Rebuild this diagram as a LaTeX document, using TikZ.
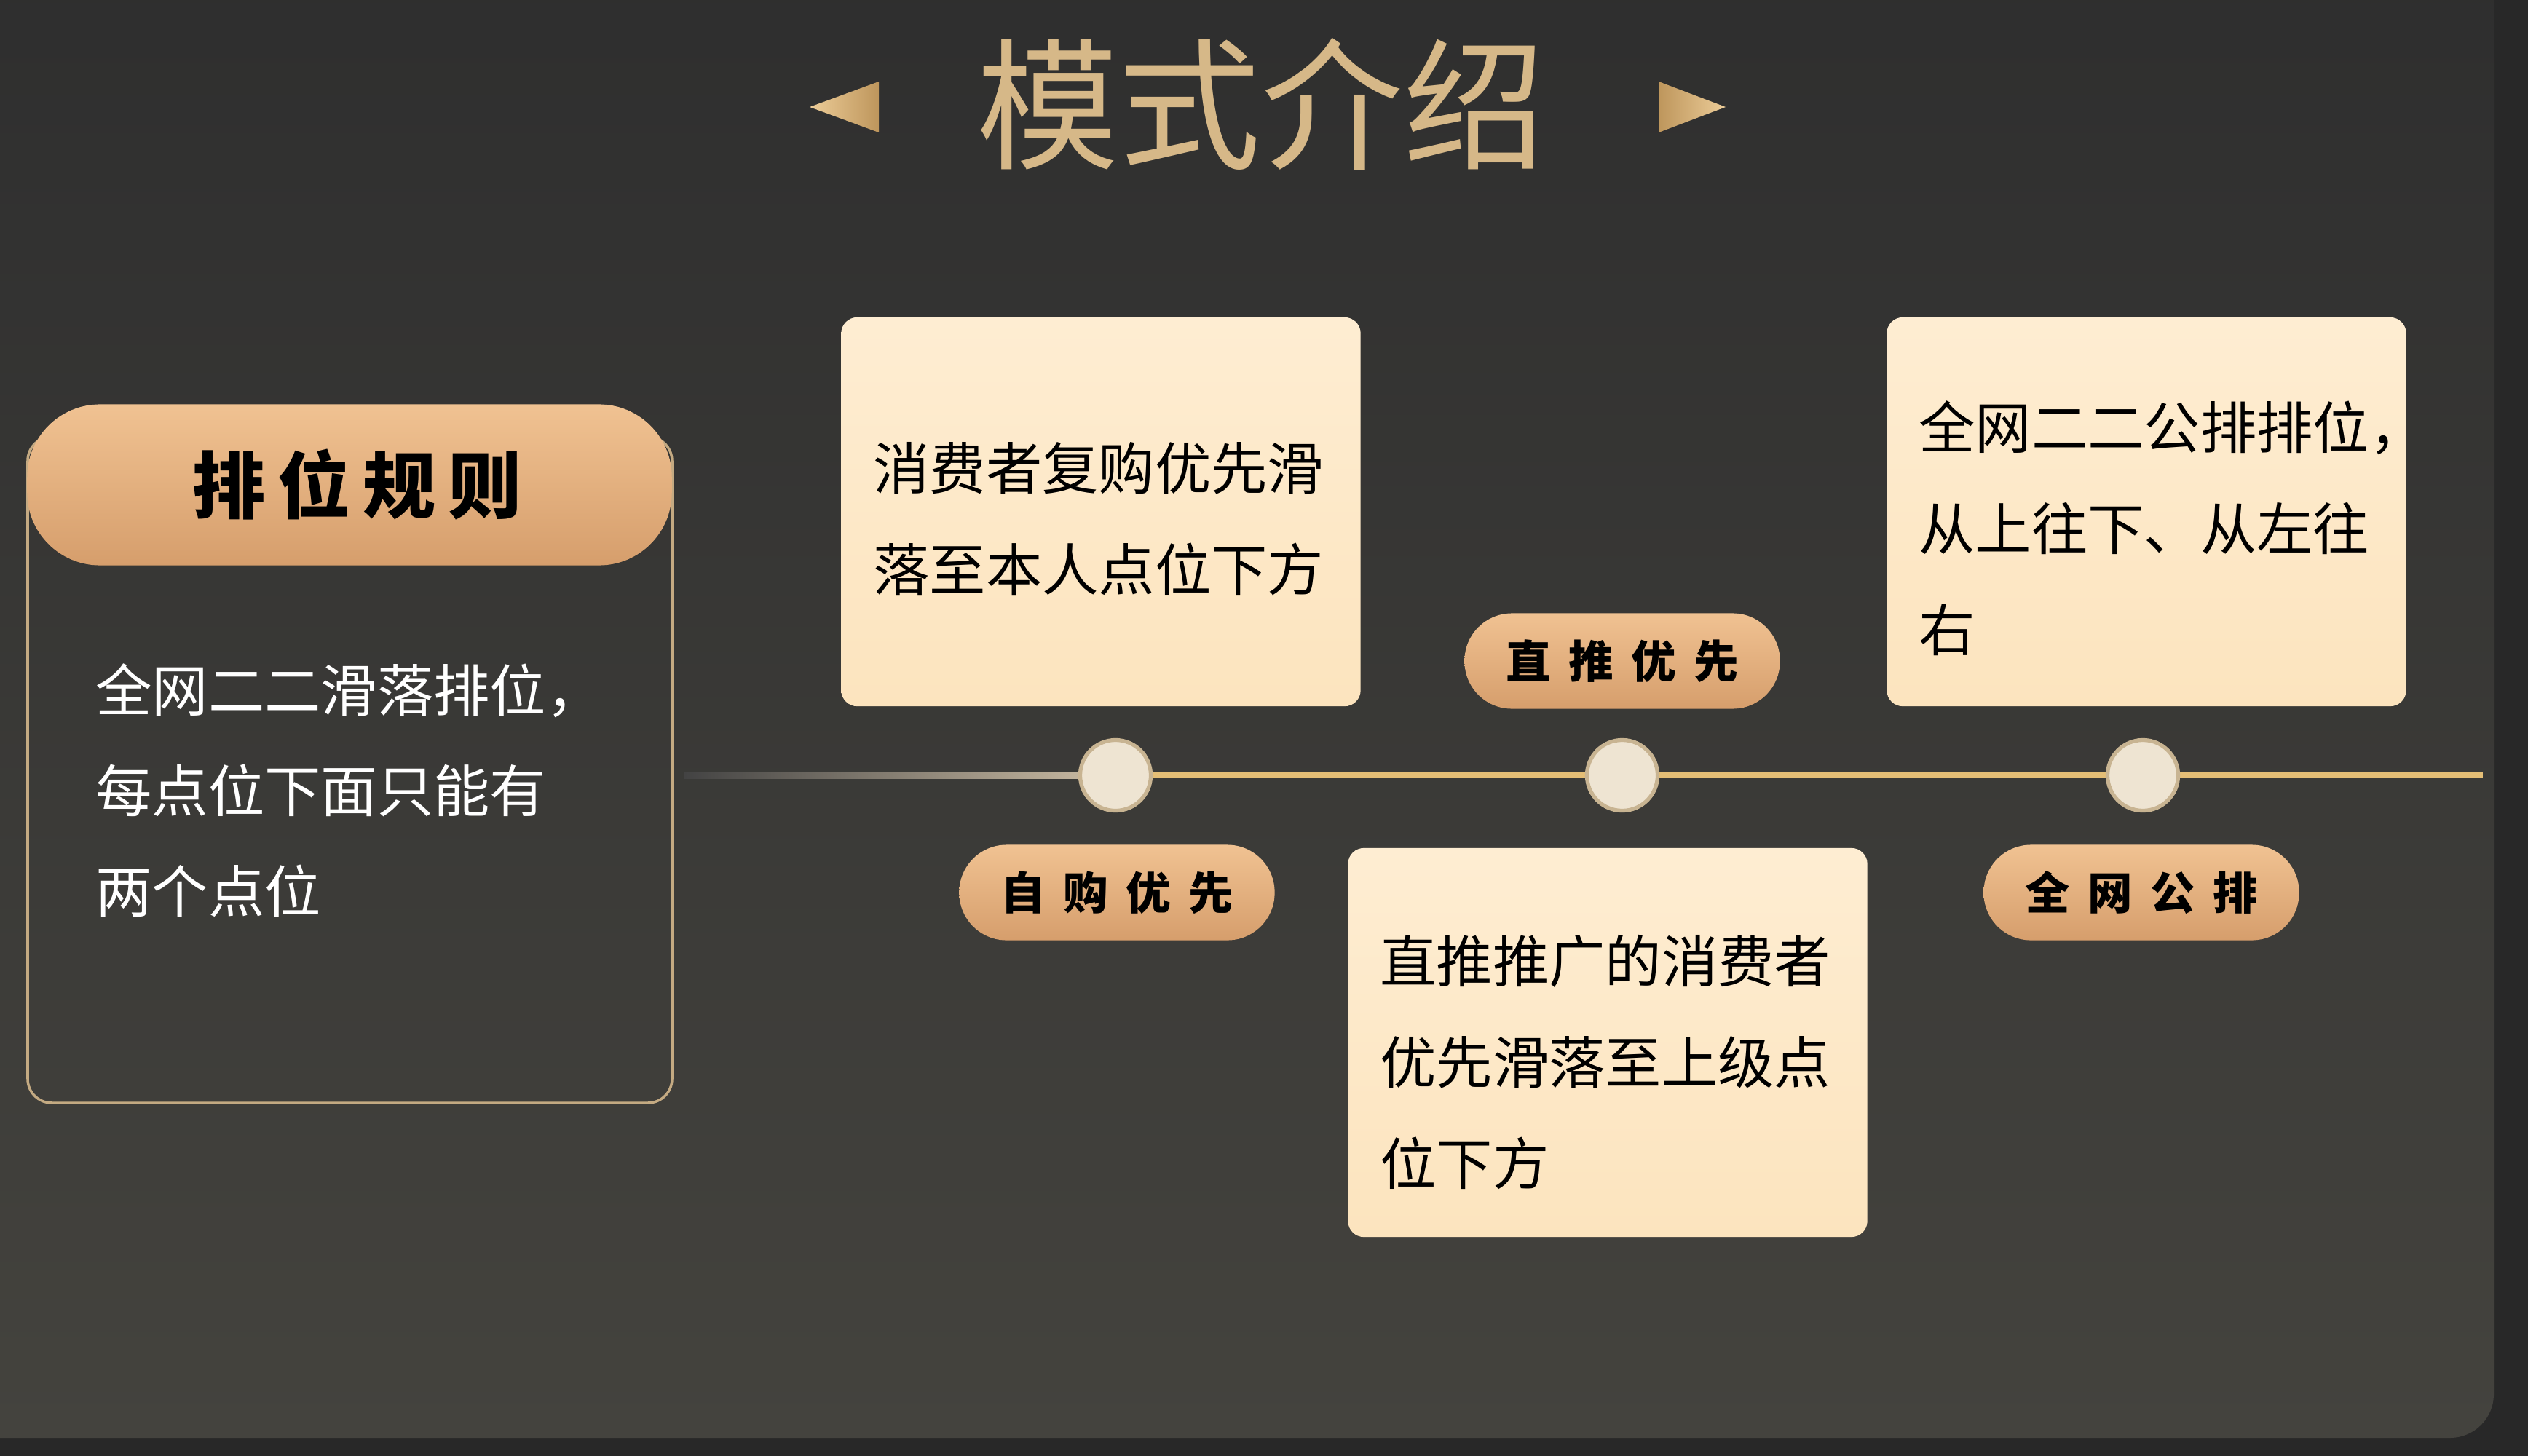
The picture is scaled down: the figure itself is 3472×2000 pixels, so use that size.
\documentclass[tikz,border=0pt]{standalone}
\usepackage{fontspec}
\newfontfamily\cjk{Noto Sans CJK SC}
\newfontfamily\cjkhead[LetterSpace=17]{Noto Sans CJK SC}
\newfontfamily\cjkpill[LetterSpace=40]{Noto Sans CJK SC}
\usetikzlibrary{positioning}

\definecolor{panelTop}{RGB}{46,46,46}
\definecolor{panelBottom}{RGB}{68,67,62}
\definecolor{stripDark}{RGB}{40,40,40}
\definecolor{titleGold}{RGB}{214,184,136}
\definecolor{goldLight}{RGB}{236,204,152}
\definecolor{goldDark}{RGB}{190,150,92}
\definecolor{pillLight}{RGB}{240,194,146}
\definecolor{pillDark}{RGB}{214,158,108}
\definecolor{cardTop}{RGB}{254,237,210}
\definecolor{cardBottom}{RGB}{252,228,190}
\definecolor{rimTan}{RGB}{200,180,146}
\definecolor{dotCream}{RGB}{238,228,210}
\definecolor{lineGold}{RGB}{228,190,118}
\definecolor{lineFade}{RGB}{205,190,165}
\definecolor{frameGold}{RGB}{196,170,130}

\tikzset{card box/.style={
        top color=cardTop, bottom color=cardBottom, rounded corners=0.22cm,
        minimum height=5.34cm, text width=6.25cm, inner xsep=0.44cm,
        align=left, text=black, font=\cjk\fontsize{22}{39.5}\selectfont,
        execute at begin node={\rule{0pt}{#1}},
    },
    card box/.default=24pt,
    label pill/.style={
        top color=pillLight, bottom color=pillDark, rounded corners=0.65cm,
        minimum width=4.33cm, minimum height=1.31cm, inner sep=0pt,
        text=black, font=\cjkpill\bfseries\fontsize{17.5}{20}\selectfont,
    },
    time dot/.style={
        circle, fill=dotCream, draw=rimTan, line width=1.5pt,
        minimum size=0.97cm, inner sep=0pt,
    },
}

\begin{document}
\begin{tikzpicture}[x=0.01cm, y=-0.01cm]
    \useasboundingbox (0,0) rectangle (3472,2000);
    %% background and panel
    \fill[stripDark] (0,0) rectangle (3472,2000);
    \shade[top color=panelTop, bottom color=panelBottom, rounded corners=0.6cm]
        (-60,-60) rectangle (3425,1975);

    %% title with the two arrow heads
    \node [text=titleGold, font=\cjk\fontsize{55.5}{60}\selectfont] (title) at (1732,143) {模式介绍};
    \shade[left color=goldLight, right color=goldDark] (1207,112) -- (1207,182) -- (1112,147) -- cycle;
    \shade[left color=goldDark, right color=goldLight] (2278,112) -- (2278,182) -- (2370,147) -- cycle;

    %% rule box on the left
    \draw[frameGold, line width=1pt, rounded corners=0.33cm] (38,600) rectangle (923,1515);
    \node [top color=pillLight, bottom color=pillDark, rounded corners=1.0cm,
           minimum width=8.85cm, minimum height=2.21cm, text=black,
           font=\cjkhead\bfseries\fontsize{28.5}{30}\selectfont] (rule head) at (480,666) {\kern6pt 排位规则};
    \node [anchor=west, align=left, text=white, font=\cjk\fontsize{22}{39.3}\selectfont]
        (rule text) at (119,1086) {全网二二滑落排位，\\每点位下面只能有\\两个点位};

    %% time line
    \coordinate (line start) at (940,1065);
    \coordinate (line end) at (3410,1065);
    \coordinate (p1) at (1532,1065);
    \shade[left color=panelTop!90!white, right color=lineFade] (940,1061) rectangle (1532,1069);
    \draw[lineGold, line width=0.08cm] (p1) -- (line end);

    \node [time dot] (dot1) at (p1) {};
    \node [time dot] (dot2) at (2228,1065) {};
    \node [time dot] (dot3) at (2943,1065) {};

    %% cards
    \node [card box=24pt] (card1) at (1512,703) {消费者复购优先滑\\落至本人点位下方};
    \node [card box=34pt] (card2) at (2208,1432) {直推推广的消费者\\优先滑落至上级点\\位下方};
    \node [card box=31.5pt] (card3) at (2948,703) {全网二二公排排位，\\从上往下、从左往\\右};

    %% labels on the time line
    \node [label pill] (pill1) at (1534,1226) {自购优先};
    \node [label pill] (pill2) at (2228,908) {直推优先};
    \node [label pill] (pill3) at (2941,1226) {全网公排};
\end{tikzpicture}
\end{document}
